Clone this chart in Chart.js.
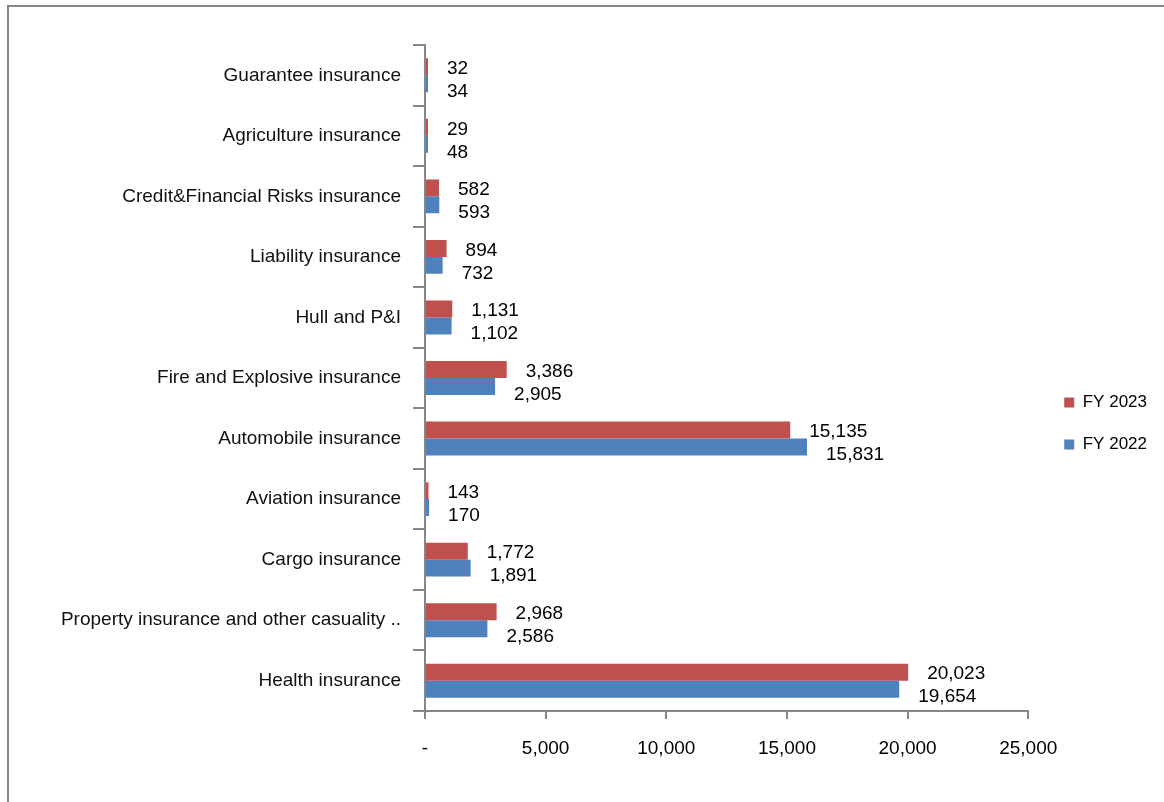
<!DOCTYPE html>
<html>
<head>
<meta charset="utf-8">
<script src="https://cdn.jsdelivr.net/npm/chart.js@4.4.1/dist/chart.umd.min.js"></script>
<style>
  html, body { margin: 0; padding: 0; background: #fff; overflow: hidden; }
  #frame {
    position: absolute; left: 7px; top: 5px; width: 1200px; height: 850px;
    border-left: 2px solid #888; border-top: 2px solid #888;
  }
  #wrap { position: absolute; left: 0; top: 0; width: 1164px; height: 802px; }
</style>
</head>
<body>
<div id="frame"></div>
<div id="wrap"><canvas id="chart"></canvas></div>
<script>
// categories, top to bottom as drawn
const categories = [
  'Guarantee insurance',
  'Agriculture insurance',
  'Credit&Financial Risks insurance',
  'Liability insurance',
  'Hull and P&I',
  'Fire and Explosive insurance',
  'Automobile insurance',
  'Aviation insurance',
  'Cargo insurance',
  'Property insurance and other casuality ..',
  'Health insurance',
];
const fy2023 = [32, 29, 582, 894, 1131, 3386, 15135, 143, 1772, 2968, 20023];
const fy2022 = [34, 48, 593, 732, 1102, 2905, 15831, 170, 1891, 2586, 19654];
const xTicks = [0, 5000, 10000, 15000, 20000, 25000];

const FONT = 'Liberation Sans, Arial, sans-serif';
const RED = '#C0504D';
const BLUE = '#4F81BD';
const AXIS = '#868686';

// value labels to the right of each bar
const valueLabels = {
  id: 'valueLabels',
  afterDatasetsDraw(chart) {
    const ctx = chart.ctx;
    ctx.save();
    ctx.font = '19px ' + FONT;
    ctx.fillStyle = '#000';
    ctx.textAlign = 'left';
    ctx.textBaseline = 'middle';
    chart.data.datasets.forEach((ds, di) => {
      const meta = chart.getDatasetMeta(di);
      meta.data.forEach((bar, i) => {
        const dy = di === 0 ? 2 : 8;
        ctx.fillText(ds.data[i].toLocaleString('en-US'), bar.x + 19, bar.y + dy);
      });
    });
    ctx.restore();
  }
};

new Chart(document.getElementById('chart'), {
  type: 'bar',
  data: {
    labels: categories,
    datasets: [
      { label: 'FY 2023', data: fy2023, backgroundColor: RED, minBarLength: 3 },
      { label: 'FY 2022', data: fy2022, backgroundColor: BLUE, minBarLength: 3 },
    ],
  },
  options: {
    indexAxis: 'y',
    responsive: true,
    maintainAspectRatio: false,
    animation: false,
    categoryPercentage: 0.56,
    barPercentage: 1.0,
    layout: { padding: { left: 10, top: 45, right: 7, bottom: 0 } },
    plugins: {
      legend: {
        position: 'right',
        labels: {
          color: '#000',
          font: { family: FONT, size: 17 },
          boxWidth: 10, boxHeight: 10,
          padding: 25,
        },
      },
      tooltip: { enabled: false },
    },
    scales: {
      x: {
        min: 0, max: 25000,
        afterBuildTicks: s => { s.ticks = xTicks.map(v => ({ value: v })); },
        border: { color: AXIS, width: 2 },
        grid: { display: true, drawOnChartArea: false, color: AXIS, lineWidth: 2, tickLength: 8 },
        ticks: {
          color: '#000', font: { family: FONT, size: 19 }, padding: 18,
          callback: v => v === 0 ? '-' : v.toLocaleString('en-US'),
        },
        afterFit: s => { s.height = 91; },
      },
      y: {
        border: { color: AXIS, width: 2 },
        grid: { display: true, drawOnChartArea: false, color: AXIS, lineWidth: 2, tickLength: 12, offset: true },
        ticks: { color: '#111', font: { family: FONT, size: 19 }, padding: 12, autoSkip: false },
        afterFit: s => { s.width = 415; },
      },
      // empty spacer between the plot and the legend
      gap: {
        type: 'category', position: 'right', labels: [],
        border: { display: false }, grid: { display: false }, ticks: { display: false },
        afterFit: s => { s.width = 11; },
      },
    },
  },
  plugins: [valueLabels],
});
</script>
</body>
</html>
